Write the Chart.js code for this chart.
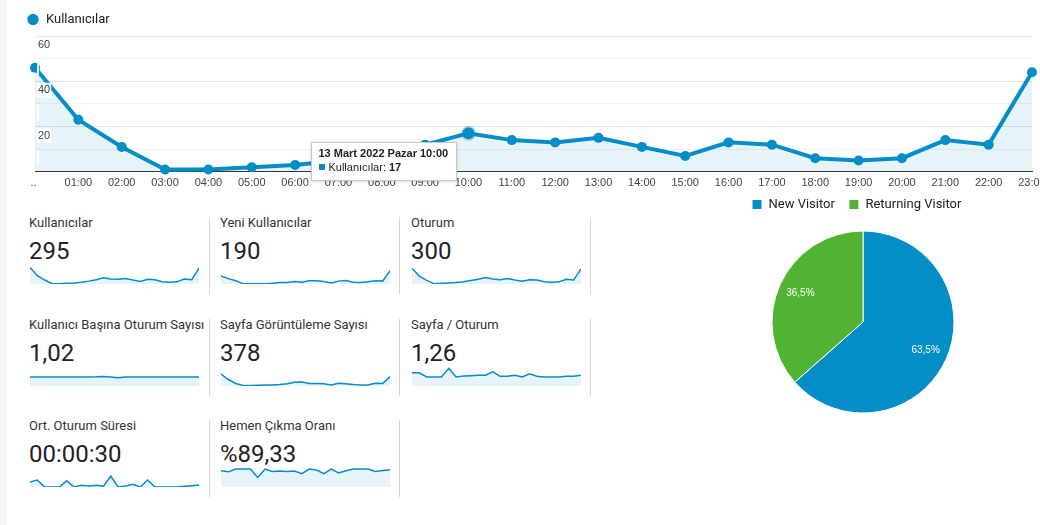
<!DOCTYPE html>
<html lang="tr">
<head>
<meta charset="utf-8">
<title>Kullanıcılar</title>
<script src="https://cdn.jsdelivr.net/npm/chart.js@4.4.1/dist/chart.umd.min.js"></script>
<style>
  html, body { margin: 0; padding: 0; background: #fff; }
  body { width: 1040px; height: 525px; overflow: hidden; position: relative; font-family: Roboto, Arial, sans-serif; }
  .strip { position: absolute; left: 0; top: 0; width: 7px; height: 525px; background: #f6f7f9; }
  .box { position: absolute; }
  .lbl { position: absolute; font-size: 13px; line-height: 16px; color: #333; white-space: nowrap; }
  .val { position: absolute; font-size: 24px; line-height: 28px; color: #222; white-space: nowrap; }
  .sep { position: absolute; width: 1px; background: #d6d6d6; }
  #tip { position: absolute; display: none; background: #fff; border: 1px solid #c8c8c8;
         box-shadow: 0 1px 3px rgba(0,0,0,0.18); padding: 4px 8px 6px 6px; font: 11px Arial, "Liberation Sans", sans-serif;
         line-height: 13.5px; color: #222; white-space: nowrap; pointer-events: none; }
  #tip .sq { display: inline-block; width: 6px; height: 6px; background: #058dc7; margin: 0 3px 1px 1px; }
</style>
</head>
<body>
<div class="strip"></div>
<div class="box" style="left:0;top:0;width:1040px;height:195px;"><canvas id="mainChart"></canvas></div>
<div class="box" style="left:738px;top:184px;width:250px;height:239px;"><canvas id="pieChart"></canvas></div>
<div id="cards"></div>
<div id="tip"></div>
<script>
// hourly data, 13 Mart 2022
const hours = ['...', '01:00', '02:00', '03:00', '04:00', '05:00', '06:00', '07:00', '08:00', '09:00', '10:00', '11:00',
               '12:00', '13:00', '14:00', '15:00', '16:00', '17:00', '18:00', '19:00', '20:00', '21:00', '22:00', '23:00'];
const tipDate = '13 Mart 2022 Pazar';
const tipHour = 10;
const users = [46, 23, 11, 1, 1, 2, 3, 5, 8, 12, 17, 14, 13, 15, 11, 7, 13, 12, 6, 5, 6, 14, 12, 44];
const yTicks = [20, 40, 60];

// sparklines
const newUsers = [22, 15, 9, 1, 1, 1, 1, 2, 4, 4, 7, 5, 9, 9, 7, 3, 8, 10, 5, 4, 6, 9, 8, 37];
const sessions = [44, 22, 10, 1, 2, 3, 4, 6, 10, 13, 18, 14, 12, 15, 11, 8, 12, 11, 6, 5, 6, 13, 11, 42];
const sessionsPerUser = [1, 1, 1, 1, 1, 1, 1, 1, 1, 1.02, 1.06, 0.99, 0.92, 1, 1, 1, 1, 1, 1, 1, 1, 1, 1, 1];
const pageViews = [66, 36, 14, 3, 3, 4, 5, 6, 9, 13, 21, 22, 14, 14, 13, 6, 15, 12, 8, 6, 6, 15, 14, 52];
const pagesPerSession = [1.46, 1.46, 1, 1, 1, 1.96, 1, 1.12, 1.15, 1.19, 1.19, 1.58, 1.08, 1.08, 1.19, 1, 1.35, 1.08, 1, 1, 1, 1.08, 1.08, 1.19];
const avgDuration = [55, 77, 0, 0, 0, 70, 0, 19, 12, 19, 10, 122, 0, 12, 29, 0, 77, 0, 0, 0, 0, 7, 14, 22];
const bounceRate = [90.2, 84.3, 100, 100, 100, 52.9, 100, 86.3, 88.2, 86.3, 88.2, 74.5, 100, 94.1, 74.5, 100, 78.4, 90.2, 100, 100, 100, 86.3, 92.2, 96.1];

const cardTitles = ['Kullanıcılar', 'Yeni Kullanıcılar', 'Oturum', 'Kullanıcı Başına Oturum Sayısı', 'Sayfa Görüntüleme Sayısı',
                    'Sayfa / Oturum', 'Ort. Oturum Süresi', 'Hemen Çıkma Oranı'];
const cardValues = ['295', '190', '300', '1,02', '378', '1,26', '00:00:30', '%89,33'];
const cardSeries = [users, newUsers, sessions, sessionsPerUser, pageViews, pagesPerSession, avgDuration, bounceRate];

// visitor type
const visitorLabels = ['New Visitor', 'Returning Visitor'];
const visitorShare = [63.5, 36.5];

const BLUE = '#058dc7';
const GREEN = '#50b432';
const FILL = 'rgba(5,141,199,0.1)';

function showTip(ctx) {
    const t = ctx.tooltip;
    const el = document.getElementById('tip');
    if (t.opacity === 0 || !t.dataPoints || !t.dataPoints.length) { el.style.display = 'none'; return; }
    const i = t.dataPoints[0].dataIndex;
    el.innerHTML = `<b>${tipDate} ${hours[i]}</b><br><span class="sq"></span>Kullanıcılar: <b>${users[i]}</b>`;
    el.style.display = 'block';
    el.style.left = (t.caretX - 11 - el.offsetWidth) + 'px';
    el.style.top = (t.caretY + 9) + 'px';
}

let chart = new Chart(document.getElementById('mainChart'), {
    type: 'line',
    data: {
        labels: hours,
        datasets: [{
            label: 'Kullanıcılar',
            data: users,
            borderColor: BLUE,
            backgroundColor: BLUE,
            borderWidth: 4,
            tension: 0,
            pointRadius: 5,
            pointBorderWidth: 0,
            pointBackgroundColor: BLUE,
            pointHoverRadius: 6,
            pointHoverBorderWidth: 3,
            pointHoverBorderColor: 'rgba(5,141,199,0.3)',
            pointHoverBackgroundColor: BLUE,
            clip: false,
            fill: { target: 'origin', above: FILL }
        }]
    },
    options: {
        responsive: true,
        maintainAspectRatio: false,
        animation: false,
        events: [],
        layout: { padding: { left: 16.5, right: 8, top: 3, bottom: 0 } },
        scales: {
            x: {
                grid: { display: false, drawTicks: false },
                border: { display: true, color: '#333', width: 1 },
                ticks: { color: '#444', font: { size: 11, family: 'Arial, "Liberation Sans"' }, padding: 5, maxRotation: 0, autoSkip: false },
                afterFit: s => { s.paddingLeft = 0; s.paddingRight = 0; }
            },
            y: {
                min: 0,
                max: 60,
                border: { display: false },
                grid: {
                    drawTicks: false,
                    color: c => c.tick.value === 0 ? 'rgba(0,0,0,0)' : (yTicks.includes(c.tick.value) ? '#e4e4e4' : '#f2f2f2')
                },
                ticks: {
                    stepSize: 10, mirror: true, padding: 3, labelOffset: 9, z: 1,
                    color: '#444', font: { size: 11, family: 'Arial, "Liberation Sans"' },
                    showLabelBackdrop: true, backdropColor: 'rgba(255,255,255,0.85)', backdropPadding: 1,
                    callback: v => yTicks.includes(v) ? v : ''
                },
                afterFit: s => { s.width = 18.5; s.paddingTop = 0; s.paddingBottom = 0; }
            }
        },
        plugins: {
            legend: {
                position: 'top',
                align: 'start',
                labels: {
                    usePointStyle: true, pointStyle: 'circle', boxWidth: 13, boxHeight: 8, padding: 10,
                    color: '#222', font: { size: 13, family: 'Roboto' }
                }
            },
            tooltip: { enabled: false, external: showTip }
        }
    }
});
chart.setActiveElements([{ datasetIndex: 0, index: tipHour }]);
chart.update('none');
chart.tooltip.setActiveElements([{ datasetIndex: 0, index: tipHour }], { x: 0, y: 0 });
chart.draw();

// metric cards with sparklines
const colText = [29, 220, 411];
const colSpark = [30, 221, 412];
const colSep = [209, 399, 590];
const rowBase = [0, 102, 203];
const cards = document.getElementById('cards');
cardTitles.forEach((title, i) => {
    const col = i % 3, row = Math.floor(i / 3), b = rowBase[row];
    cards.insertAdjacentHTML('beforeend',
        `<div class="lbl" style="left:${colText[col]}px;top:${215 + b}px">${title}</div>` +
        `<div class="val" style="left:${colText[col]}px;top:${237 + b}px">${cardValues[i]}</div>` +
        `<div class="sep" style="left:${colSep[col]}px;top:${217 + b}px;height:77px"></div>` +
        `<div class="box" style="left:${colSpark[col]}px;top:${265 + b}px;width:169px;height:19px"><canvas id="sp${i}"></canvas></div>`);
});
cardSeries.forEach((series, i) => {
    new Chart(document.getElementById('sp' + i), {
        type: 'line',
        data: {
            labels: hours,
            datasets: [{
                data: series, borderColor: BLUE, borderWidth: 1.5, pointRadius: 0, tension: 0,
                fill: { target: 'origin', above: FILL }, clip: false
            }]
        },
        options: {
            responsive: true, maintainAspectRatio: false, animation: false, events: [],
            layout: { padding: { top: 1, bottom: 0, left: 0, right: 0 } },
            scales: { x: { display: false }, y: { display: false, min: 0 } },
            plugins: { legend: { display: false }, tooltip: { enabled: false } }
        }
    });
});

// pie percentage labels
const pieLabels = {
    id: 'pieLabels',
    afterDatasetsDraw(c) {
        const ctx = c.ctx;
        ctx.save();
        ctx.fillStyle = '#fff';
        ctx.font = '10px Arial, "Liberation Sans"';
        ctx.textAlign = 'center';
        ctx.textBaseline = 'middle';
        c.getDatasetMeta(0).data.forEach((arc, i) => {
            const p = arc.getProps(['x', 'y', 'startAngle', 'endAngle', 'outerRadius'], true);
            const mid = (p.startAngle + p.endAngle) / 2;
            const r = p.outerRadius * 0.755;
            ctx.fillText(visitorShare[i].toFixed(1).replace('.', ',') + '%', p.x + Math.cos(mid) * r, p.y + Math.sin(mid) * r);
        });
        ctx.restore();
    }
};

new Chart(document.getElementById('pieChart'), {
    type: 'pie',
    data: {
        labels: visitorLabels,
        datasets: [{
            data: visitorShare,
            backgroundColor: [BLUE, GREEN],
            borderColor: '#fff',
            borderWidth: 1,
            radius: 91
        }]
    },
    options: {
        responsive: true, maintainAspectRatio: false, animation: false, events: [],
        plugins: {
            legend: {
                position: 'top',
                align: 'start',
                labels: { boxWidth: 10, boxHeight: 10, padding: 14, color: '#222', font: { size: 13, family: 'Roboto' } }
            },
            tooltip: { enabled: false }
        }
    },
    plugins: [pieLabels]
});
</script>
</body>
</html>
